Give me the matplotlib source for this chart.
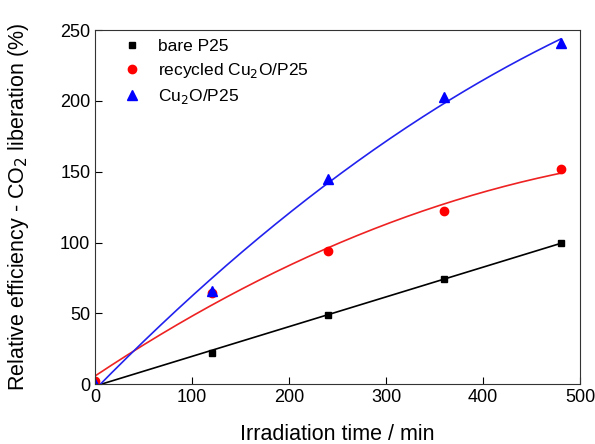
import numpy as np
import matplotlib.pyplot as plt

plt.rcParams['font.family'] = ['Liberation Sans', 'DejaVu Sans']

time = [0, 120, 240, 360, 480]
bare = [0, 22, 49, 74, 100]
recycled = [2, 64, 94, 122, 152]
cu2o = [0, 66, 145, 203, 241]

fig = plt.figure(figsize=(5.95, 4.44), dpi=100)
ax = fig.add_axes([0.160, 0.135, 0.815, 0.797])

# fitted trend lines
xf = np.linspace(0, 480, 200)
fb = np.polyfit(time, bare, 1)
fr = np.polyfit(time, recycled, 2)
fc = np.polyfit(time, cu2o, 2)
ax.plot(xf, np.polyval(fb, xf), color='black', lw=1.2)
ax.plot(xf, np.polyval(fr, xf), color='#ee2222', lw=1.2)
ax.plot(xf, np.polyval(fc, xf), color='#2222ee', lw=1.2)

ax.plot(time, bare, 's', color='black', ms=5, label='bare P25')
ax.plot(time, recycled, 'o', color='red', ms=6, label='recycled Cu$_2$O/P25')
ax.plot(time, cu2o, '^', color='blue', ms=6.5, label='Cu$_2$O/P25')

ax.set_xlim(0, 500)
ax.set_ylim(0, 250)
ax.set_xticks([0, 100, 200, 300, 400, 500])
ax.set_yticks([0, 50, 100, 150, 200, 250])
ax.tick_params(direction='in', labelsize=13, length=5, top=False, right=False)
for s in ax.spines.values():
    s.set_color('#333333')

ax.set_xlabel('Irradiation time / min', fontsize=15.5, labelpad=13)
ax.set_ylabel('Relative efficiency - CO$_2$ liberation (%)', fontsize=15.5, labelpad=21)

ax.legend(loc='upper left', frameon=False, fontsize=12.5, handlelength=1.0,
          handletextpad=1.0, borderaxespad=0, borderpad=0, labelspacing=0.4,
          bbox_to_anchor=(0.058, 0.975))

fig.savefig('out.png', dpi=100)
